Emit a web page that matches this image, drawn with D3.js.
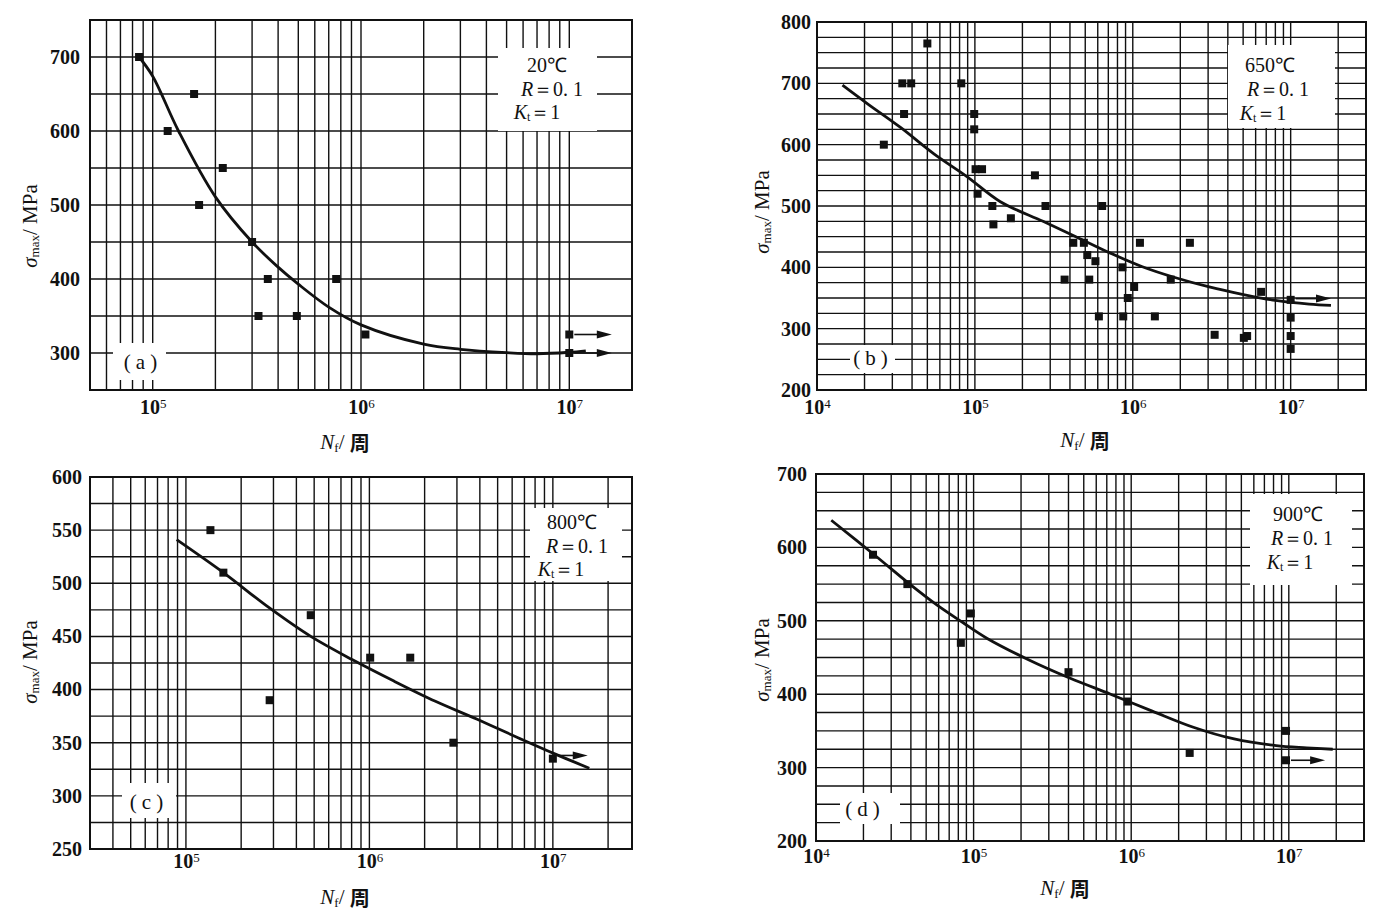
<!DOCTYPE html>
<html><head><meta charset="utf-8">
<script src="https://cdn.jsdelivr.net/npm/d3@7"></script>
<style>
body{margin:0;background:#fff;}
svg{display:block;}
</style></head><body>
<svg id="chart" width="1377" height="918"></svg>
<script>
// ---------- DATA ----------
// (a) 20℃
const aPointN = [8.6e4, 1.18e5, 1.58e5, 1.67e5, 2.17e5, 3.0e5, 3.22e5, 3.57e5, 4.92e5, 7.6e5, 1.05e6, 1e7, 1e7];
const aPointS = [700, 600, 650, 500, 550, 450, 350, 400, 350, 400, 325, 325, 300];
const aCurveN = [8.6e4, 1e5, 1.33e5, 2e5, 3e5, 4e5, 5e5, 7e5, 1e6, 2e6, 3e6, 5e6, 7e6, 1e7, 1.2e7];
const aCurveS = [700, 674, 600, 511, 450, 416, 393, 362, 338, 312, 305, 300.5, 299, 301, 303];
const aArrowS = [325, 300];
const aArrowN = [1e7, 1.6e7];

// (b) 650℃
const bPointN = [2.65e4, 3.47e4, 3.95e4, 3.56e4, 5e4, 8.2e4, 9.9e4, 9.9e4, 1.01e5, 1.11e5,
                 1.04e5, 1.29e5, 1.31e5, 1.69e5, 2.4e5, 2.8e5, 3.7e5, 4.2e5, 4.9e5, 5.15e5,
                 5.3e5, 5.8e5, 6.1e5, 6.4e5, 8.6e5, 8.7e5, 9.3e5, 1.02e6, 1.11e6, 1.38e6,
                 1.74e6, 2.3e6, 3.3e6, 5.05e6, 5.3e6, 6.5e6, 1e7, 1e7, 1e7, 1e7];
const bPointS = [600, 700, 700, 650, 765, 700, 650, 625, 560, 560,
                 520, 500, 470, 480, 550, 500, 380, 440, 440, 420,
                 380, 410, 320, 500, 400, 320, 350, 368, 440, 320,
                 380, 440, 290, 285, 288, 360, 347, 318, 288, 267];
const bCurveN = [1.45e4, 2.08e4, 3.38e4, 5.5e4, 8.9e4, 1.45e5, 2.7e5, 4.36e5, 7.1e5, 1.15e6, 1.87e6, 3.05e6, 4.94e6, 8e6, 1.31e7, 1.8e7];
const bCurveS = [697, 667, 628, 585, 548, 507, 475, 450, 424, 401, 383, 368, 356, 346, 340, 338];
const bArrowS = [349];
const bArrowN = [1e7, 1.8e7];

// (c) 800℃
const cPointN = [1.36e5, 1.6e5, 2.86e5, 4.79e5, 1.01e6, 1.67e6, 2.87e6, 1e7];
const cPointS = [550, 510, 390, 470, 430, 430, 350, 335];
const cCurveN = [8.9e4, 1.6e5, 2.84e5, 4.79e5, 8.09e5, 1.36e6, 2.29e6, 3.87e6, 6.5e6, 1.04e7, 1.58e7];
const cCurveS = [541, 510, 477, 450, 428, 408, 389, 372, 354.5, 339, 326];
const cArrowS = [338];
const cArrowN = [1e7, 1.55e7];

// (d) 900℃
const dPointN = [2.3e4, 3.8e4, 8.3e4, 9.6e4, 4.0e5, 9.5e5, 2.35e6, 9.6e6, 9.6e6];
const dPointS = [590, 550, 470, 510, 430, 390, 320, 350, 310];
const dCurveN = [1.25e4, 2.34e4, 3.88e4, 5.9e4, 8.5e4, 1.22e5, 2.23e5, 4.07e5, 7.4e5, 1.36e6, 2.48e6, 4.5e6, 8.3e6, 1.3e7, 1.9e7];
const dCurveS = [637, 590, 551, 521, 498, 476, 447, 422, 400, 377, 355, 339, 330, 327, 325];
const dArrowS = [310];
const dArrowN = [9.6e6, 1.7e7];

// tick values and labels
const aYTicks = [300, 400, 500, 600, 700];
const bYTicks = [200, 300, 400, 500, 600, 700, 800];
const cYTicks = [250, 300, 350, 400, 450, 500, 550, 600];
const dYTicks = [200, 300, 400, 500, 600, 700];
const acXTicks = [1e5, 1e6, 1e7];
const bdXTicks = [1e4, 1e5, 1e6, 1e7];
const tempLabels = ["20℃", "650℃", "800℃", "900℃"];
const panelLabels = ["a", "b", "c", "d"];

// ---------- DRAW ----------
const svg = d3.select("#chart");
const SERIF = "'Liberation Serif','Times New Roman',serif";
const CJK = "'Noto Sans CJK SC',sans-serif";

function drawPanel(c) {
  const g = svg.append("g");
  const x = d3.scaleLog().domain(c.xDomain).range([c.left, c.right]);
  const y = d3.scaleLinear().domain(c.yDomain).range([c.bottom, c.top]);

  // vertical log grid
  const vLines = [];
  const e0 = Math.floor(Math.log10(c.xDomain[0])), e1 = Math.ceil(Math.log10(c.xDomain[1]));
  for (let e = e0; e <= e1; e++) for (let k = 1; k <= 9; k++) {
    const v = k * Math.pow(10, e);
    if (v > c.xDomain[0] * 1.01 && v < c.xDomain[1] * 0.99) vLines.push(v);
  }
  g.append("g").selectAll("line").data(vLines).join("line")
    .attr("x1", d => x(d)).attr("x2", d => x(d))
    .attr("y1", c.top).attr("y2", c.bottom)
    .attr("stroke", "#111").attr("stroke-width", 1.4);

  const hLines = d3.range(c.yDomain[0] + c.yStep, c.yDomain[1] - 0.001, c.yStep);
  g.append("g").selectAll("line").data(hLines).join("line")
    .attr("x1", c.left).attr("x2", c.right)
    .attr("y1", d => y(d)).attr("y2", d => y(d))
    .attr("stroke", "#111").attr("stroke-width", 1.4);

  // white boxes behind annotation text
  [c.tempBox, c.labBox].forEach(b => {
    g.append("rect").attr("x", b[0]).attr("y", b[1]).attr("width", b[2] - b[0]).attr("height", b[3] - b[1]).attr("fill", "#fff");
  });

  // frame
  g.append("rect").attr("x", c.left).attr("y", c.top)
    .attr("width", c.right - c.left).attr("height", c.bottom - c.top)
    .attr("fill", "none").attr("stroke", "#111").attr("stroke-width", 2);

  // y axis labels
  const ya = g.append("g").attr("transform", `translate(${c.left},0)`)
    .call(d3.axisLeft(y).tickValues(c.yTicks).tickSize(0).tickPadding(c.yPad).tickFormat(d3.format("d")));
  ya.select(".domain").remove();
  ya.selectAll("text").attr("font-family", SERIF).attr("font-size", 20).attr("font-weight", "bold").attr("fill", "#111");

  // x axis labels (10^n)
  const xa = g.append("g").attr("transform", `translate(0,${c.bottom})`)
    .call(d3.axisBottom(x).tickValues(c.xTicks).tickSize(0).tickPadding(c.xPad));
  xa.select(".domain").remove();
  xa.selectAll("text").each(function (d) {
    const t = d3.select(this);
    t.text(null).attr("font-family", SERIF).attr("font-size", 20).attr("font-weight", "bold").attr("fill", "#111");
    t.append("tspan").text("10");
    t.append("tspan").attr("dy", "-0.45em").attr("font-size", 13).attr("font-weight", "normal").text(Math.round(Math.log10(d)));
  });

  // curve
  const pts = c.curveN.map((n, i) => [x(n), y(c.curveS[i])]);
  g.append("path").attr("d", d3.line().curve(d3.curveCatmullRom.alpha(0.5))(pts))
    .attr("fill", "none").attr("stroke", "#111").attr("stroke-width", 2.8);

  // points
  g.append("g").selectAll("rect").data(c.pointN.map((n, i) => [n, c.pointS[i]])).join("rect")
    .attr("x", d => x(d[0]) - 4).attr("y", d => y(d[1]) - 4)
    .attr("width", 8).attr("height", 8).attr("fill", "#111");

  // arrows (run-outs)
  c.arrowS.forEach(s => {
    const x0 = x(c.arrowN[0]) + 5, x1 = x(c.arrowN[1]), yy = y(s);
    g.append("line").attr("x1", x0).attr("x2", x1 - 10).attr("y1", yy).attr("y2", yy)
      .attr("stroke", "#111").attr("stroke-width", 1.6);
    g.append("path").attr("d", `M${x1},${yy} L${x1 - 15},${yy - 4} L${x1 - 15},${yy + 4} Z`).attr("fill", "#111");
  });

  // temperature / R / Kt text
  const tt = g.append("g").attr("font-family", SERIF).attr("font-size", 20).attr("fill", "#111");
  tt.append("text").attr("x", c.tempPos[0][0]).attr("y", c.tempPos[0][1]).attr("text-anchor", "middle")
    .attr("dominant-baseline", "central").text(c.temp);
  const r = tt.append("text").attr("x", c.tempPos[1][0]).attr("y", c.tempPos[1][1]).attr("text-anchor", "middle")
    .attr("dominant-baseline", "central");
  r.append("tspan").attr("font-style", "italic").text("R");
  r.append("tspan").text("＝0. 1");
  const k = tt.append("text").attr("x", c.tempPos[2][0]).attr("y", c.tempPos[2][1]).attr("text-anchor", "middle")
    .attr("dominant-baseline", "central");
  k.append("tspan").attr("font-style", "italic").text("K");
  k.append("tspan").attr("font-size", 12).attr("dy", 5).text("t");
  k.append("tspan").attr("dy", -5).text("＝1");

  // panel label
  g.append("text").attr("x", c.labPos[0]).attr("y", c.labPos[1]).attr("text-anchor", "middle")
    .attr("dominant-baseline", "central").attr("font-family", SERIF).attr("font-size", 21).attr("fill", "#111")
    .text("(" + c.lab + ")").attr("letter-spacing", 5);

  // y title
  const yt = g.append("text").attr("transform", `translate(${c.yTitle[0]},${c.yTitle[1]}) rotate(-90)`)
    .attr("text-anchor", "middle").attr("dominant-baseline", "central")
    .attr("font-family", SERIF).attr("font-size", 21).attr("fill", "#111");
  yt.append("tspan").attr("font-style", "italic").text("σ");
  yt.append("tspan").attr("font-size", 13).attr("dy", 4).text("max");
  yt.append("tspan").attr("dy", -4).text("/ MPa");

  // x title
  const xt = g.append("text").attr("x", c.xTitle[0]).attr("y", c.xTitle[1]).attr("text-anchor", "middle")
    .attr("dominant-baseline", "central").attr("font-size", 21).attr("fill", "#111");
  xt.append("tspan").attr("font-family", SERIF).attr("font-style", "italic").text("N");
  xt.append("tspan").attr("font-family", SERIF).attr("font-size", 13).attr("dy", 5).text("f");
  xt.append("tspan").attr("font-family", SERIF).attr("dy", -5).text("/ ");
  xt.append("tspan").attr("font-family", CJK).attr("font-weight", "bold").attr("font-size", 20).text("周");
}

drawPanel({
  left: 90, right: 632, top: 20, bottom: 390, xDomain: [5e4, 2e7], yDomain: [250, 750], yStep: 50,
  yTicks: aYTicks, xTicks: acXTicks, yPad: 10, xPad: 10,
  pointN: aPointN, pointS: aPointS, curveN: aCurveN, curveS: aCurveS, arrowS: aArrowS, arrowN: aArrowN,
  temp: tempLabels[0], tempPos: [[547, 65], [552, 89], [537, 112]], tempBox: [498, 48, 597, 131],
  lab: panelLabels[0], labPos: [143, 362], labBox: [113, 343, 166, 380],
  yTitle: [30, 226], xTitle: [345, 442]
});
drawPanel({
  left: 817, right: 1366, top: 22, bottom: 390, xDomain: [1e4, 3e7], yDomain: [200, 800], yStep: 25,
  yTicks: bYTicks, xTicks: bdXTicks, yPad: 6, xPad: 10,
  pointN: bPointN, pointS: bPointS, curveN: bCurveN, curveS: bCurveS, arrowS: bArrowS, arrowN: bArrowN,
  temp: tempLabels[1], tempPos: [[1270, 65], [1278, 89], [1263, 113]], tempBox: [1228, 45, 1335, 128],
  lab: panelLabels[1], labPos: [873, 358], labBox: [850, 345, 895, 373],
  yTitle: [762, 212], xTitle: [1085, 440]
});
drawPanel({
  left: 90, right: 632, top: 477, bottom: 849, xDomain: [3e4, 2.7e7], yDomain: [250, 600], yStep: 25,
  yTicks: cYTicks, xTicks: acXTicks, yPad: 8, xPad: 5,
  pointN: cPointN, pointS: cPointS, curveN: cCurveN, curveS: cCurveS, arrowS: cArrowS, arrowN: cArrowN,
  temp: tempLabels[2], tempPos: [[572, 522], [577, 546], [561, 569]], tempBox: [530, 508, 622, 581],
  lab: panelLabels[2], labPos: [149, 802], labBox: [122, 783, 176, 818],
  yTitle: [30, 662], xTitle: [345, 897]
});
drawPanel({
  left: 816, right: 1364, top: 474, bottom: 841, xDomain: [1e4, 3e7], yDomain: [200, 700], yStep: 25,
  yTicks: dYTicks, xTicks: bdXTicks, yPad: 9, xPad: 8,
  pointN: dPointN, pointS: dPointS, curveN: dCurveN, curveS: dCurveS, arrowS: dArrowS, arrowN: dArrowN,
  temp: tempLabels[3], tempPos: [[1298, 514], [1302, 538], [1290, 562]], tempBox: [1250, 494, 1352, 585],
  lab: panelLabels[3], labPos: [865, 809], labBox: [840, 793, 900, 824],
  yTitle: [762, 660], xTitle: [1065, 888]
});
</script>
</body></html>
